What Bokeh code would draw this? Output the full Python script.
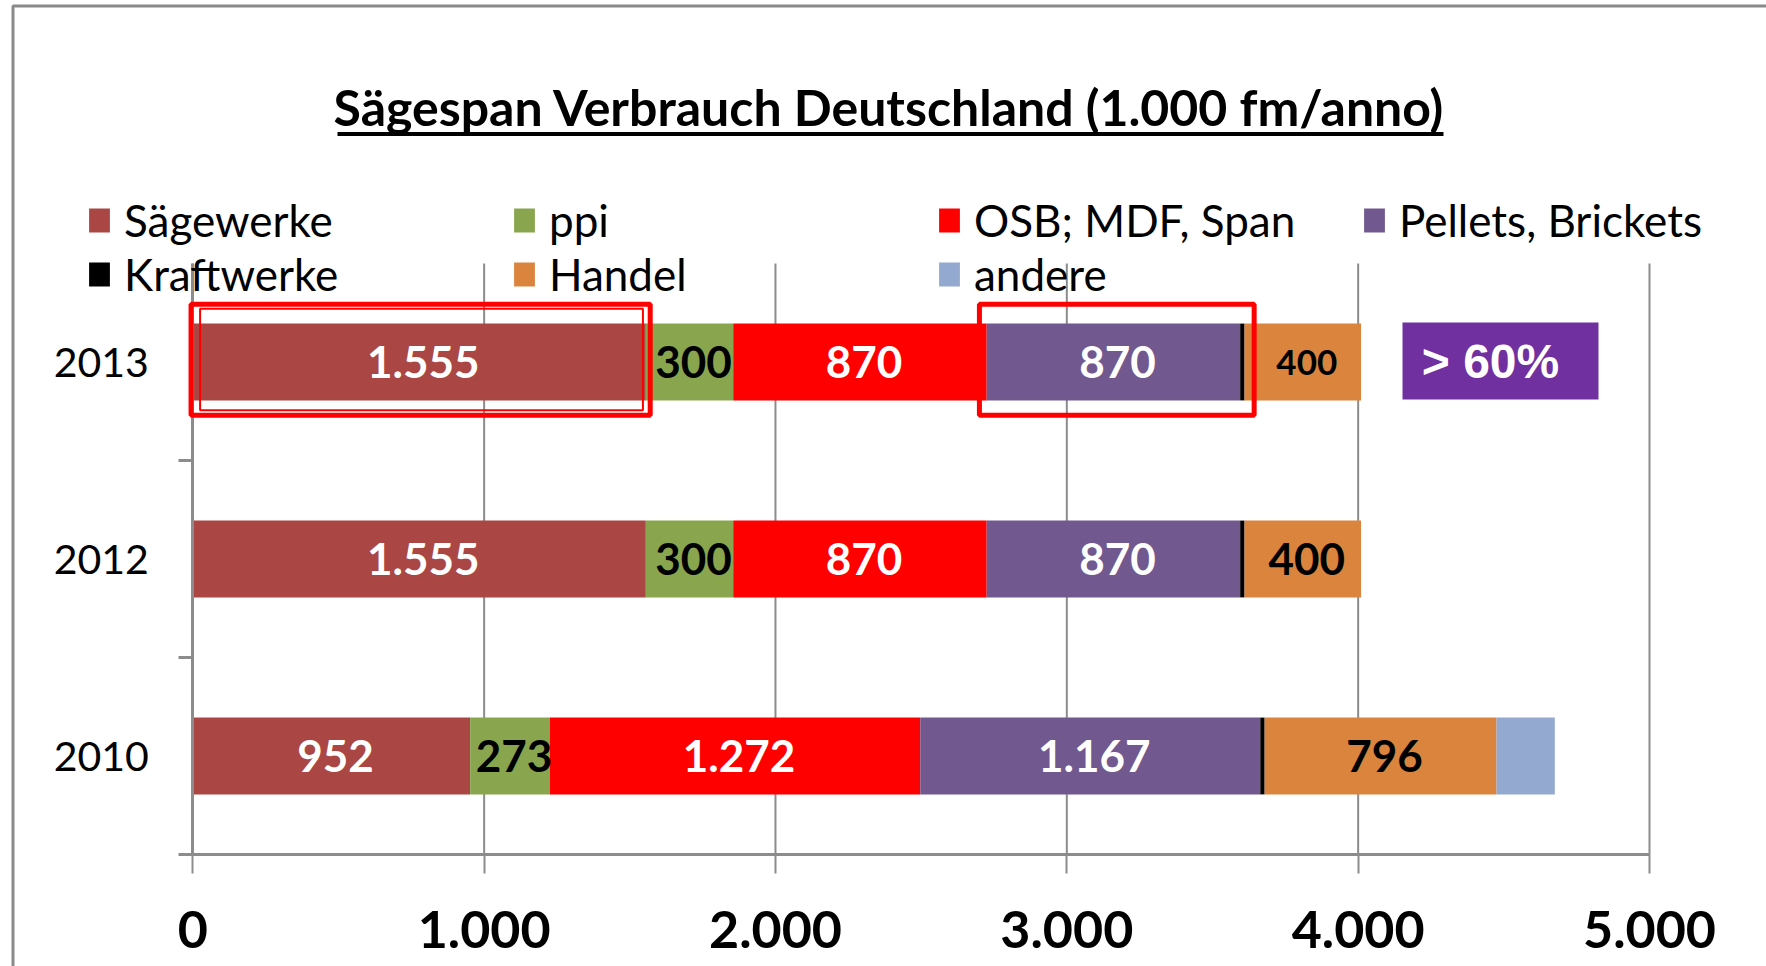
from bokeh.plotting import figure
from bokeh.models import (ColumnDataSource, FixedTicker, Legend, LegendItem, Label,
                          BoxAnnotation, Range1d)
from bokeh.core.properties import value
from bokeh.embed import file_html
from bokeh.resources import INLINE

# ---------------- data ----------------
title_text = "Sägespan Verbrauch Deutschland  (1.000  fm/anno)"
years = ["2010", "2012", "2013"]                      # bottom -> top
series = ["Sägewerke", "ppi", "OSB; MDF, Span", "Pellets, Brickets",
          "Kraftwerke", "Handel", "andere"]
saegewerke = [952, 1555, 1555]
ppi = [273, 300, 300]
osb_mdf_span = [1272, 870, 870]
pellets_brickets = [1167, 870, 870]
kraftwerke = [15, 15, 15]
handel = [796, 400, 400]
andere = [200, 0, 0]
x_ticks = [0, 1000, 2000, 3000, 4000, 5000]
x_tick_labels = ["0", "1.000", "2.000", "3.000", "4.000", "5.000"]
highlight_text = "> 60%"

# ---------------- styles / layout ----------------
colors = ["#AA4643", "#89A54E", "#FF0000", "#71588F", "#000000", "#DB843D", "#93A9CF"]
label_colors = {0: "white", 1: "black", 2: "white", 3: "white", 5: "black"}
FONT = "Lato"
GRID = "#8c8c8c"
W, H = 1766, 966
AX_LEFT_PX, AX_RIGHT_PX = 192.3, 1649.0       # pixel positions of x=0 and x=max
AX_BOTTOM_PX, AX_TOP_PX = 854.0, 263.0         # pixel positions of y=0 and y=n

xmax = x_ticks[-1]
ncat = len(years)
ux = xmax / (AX_RIGHT_PX - AX_LEFT_PX)
uy = ncat / (AX_BOTTOM_PX - AX_TOP_PX)
x_range = Range1d(-AX_LEFT_PX * ux, xmax + (W - AX_RIGHT_PX) * ux)
y_range = Range1d(-(H - AX_BOTTOM_PX) * uy, ncat + AX_TOP_PX * uy)

values = [saegewerke, ppi, osb_mdf_span, pellets_brickets, kraftwerke, handel, andere]
keys = [f"s{i}" for i in range(len(series))]
y_pos = [i + 0.5 for i in range(ncat)]
data = {"y": y_pos}
for k, v in zip(keys, values):
    data[k] = v
src = ColumnDataSource(data)

p = figure(width=W, height=H, x_range=x_range, y_range=y_range, title=None,
           output_backend="svg", toolbar_location=None, min_border=0,
           background_fill_color="white", border_fill_color="white")
p.outline_line_color = None
p.xgrid.visible = False
p.ygrid.visible = False

# ---- vertical gridlines at the x ticks ----
p.segment(x0=x_ticks, x1=x_ticks, y0=[0] * len(x_ticks), y1=[ncat] * len(x_ticks),
          line_color=GRID, line_width=2)

renderers = p.hbar_stack(keys, y="y", height=0.39, fill_color=colors, line_color=None, source=src)

# ---- data labels ----
def fmt(v):
    return f"{v:,}".replace(",", ".")

lx, ly, lt, lc, lsz = [], [], [], [], []
for yi, yv in enumerate(y_pos):
    cum = 0
    for si, v in enumerate(values):
        start = cum
        cum += v[yi]
        if si in label_colors and v[yi] > 0:
            lx.append((start + cum) / 2)
            ly.append(yv)
            lt.append(fmt(v[yi]))
            lc.append(label_colors[si])
            lsz.append("35px" if (years[yi] == "2013" and si == 5) else "44px")
lsrc = ColumnDataSource(dict(x=lx, y=ly, text=lt, color=lc, size=lsz))
p.text(x="x", y="y", text="text", source=lsrc, text_color="color", text_font_size="size",
       text_font=value(FONT), text_font_style="bold", text_align="center", text_baseline="middle",
       x_offset=4)

# ---- axes (fixed inside the frame) ----
xa = p.xaxis[0]
xa.fixed_location = 0
xa.bounds = (0, xmax)
xa.ticker = FixedTicker(ticks=x_ticks)
xa.major_label_overrides = {t: l for t, l in zip(x_ticks, x_tick_labels)}
xa.axis_line_color = GRID
xa.axis_line_width = 3
xa.major_tick_line_color = GRID
xa.major_tick_line_width = 2
xa.major_tick_out = 19
xa.major_tick_in = 0
xa.minor_tick_line_color = None
xa.major_label_text_font = FONT
xa.major_label_text_font_style = "bold"
xa.major_label_text_font_size = "52px"
xa.major_label_text_color = "black"
xa.major_label_standoff = 37

ya = p.yaxis[0]
ya.fixed_location = 0
ya.bounds = (0, ncat)
ya.ticker = FixedTicker(ticks=y_pos, minor_ticks=list(range(ncat)))
ya.major_label_overrides = {y: l for y, l in zip(y_pos, years)}
ya.axis_line_color = GRID
ya.axis_line_width = 3
ya.major_tick_line_color = None
ya.major_tick_out = 0
ya.major_tick_in = 0
ya.minor_tick_line_color = GRID
ya.minor_tick_line_width = 3
ya.minor_tick_out = 14
ya.minor_tick_in = 0
ya.major_label_text_font = FONT
ya.major_label_text_font_size = "41px"
ya.major_label_text_color = "black"
ya.major_label_standoff = 30

# ---- legend ----
items = [LegendItem(label=n, renderers=[r]) for n, r in zip(series, renderers)]
legend = Legend(items=items, location=(86, H - 300), orientation="horizontal", ncols=4,
                label_text_font=FONT, label_text_font_size="44px", label_text_color="black",
                label_standoff=12, glyph_width=26, glyph_height=30, label_width=385,
                label_height=48, spacing=2, padding=0, margin=0,
                border_line_color=None, background_fill_alpha=0)
p.add_layout(legend)

# ---- title with underline ----
p.add_layout(Label(x=901, y=106, x_units="canvas", y_units="canvas", text=title_text,
                   text_font=FONT, text_font_style="bold", text_font_size="50px",
                   text_align="center", text_baseline="alphabetic", text_color="black"))
p.add_layout(BoxAnnotation(left=337, right=1443, top=131.5, bottom=135.5,
                           left_units="canvas", right_units="canvas",
                           top_units="canvas", bottom_units="canvas",
                           fill_color="black", fill_alpha=1, line_color=None))

# ---- outer chart border ----
p.add_layout(BoxAnnotation(left=12.5, right=W + 50, top=5.5, bottom=H + 50,
                           left_units="canvas", right_units="canvas",
                           top_units="canvas", bottom_units="canvas",
                           fill_alpha=0, line_color="#8a8a8a", line_alpha=1, line_width=3))

# ---- highlight boxes (around 2013 Sägewerke and Pellets) ----
yi13 = years.index("2013")
yc = y_pos[yi13]
s_end = saegewerke[yi13]
p_start = saegewerke[yi13] + ppi[yi13] + osb_mdf_span[yi13]
p_end = p_start + pellets_brickets[yi13] + kraftwerke[yi13]
p.add_layout(BoxAnnotation(left=-6, right=s_end + 15, bottom=yc - 0.27, top=yc + 0.293,
                           fill_alpha=0, line_color="#FF0000", line_alpha=1, line_width=5))
p.add_layout(BoxAnnotation(left=25, right=s_end - 10, bottom=yc - 0.245, top=yc + 0.27,
                           fill_alpha=0, line_color="#FF0000", line_alpha=1, line_width=2))
p.add_layout(BoxAnnotation(left=p_start - 25, right=p_end + 33, bottom=yc - 0.27, top=yc + 0.293,
                           fill_alpha=0, line_color="#FF0000", line_alpha=1, line_width=5))

# ---- "> 60%" box ----
p.add_layout(BoxAnnotation(left=1402, right=1598, top=322, bottom=399,
                           left_units="canvas", right_units="canvas",
                           top_units="canvas", bottom_units="canvas",
                           fill_color="#7030A0", fill_alpha=1, line_color=None))
p.add_layout(Label(x=1490, y=361, x_units="canvas", y_units="canvas", text=highlight_text,
                   text_font="Liberation Sans", text_font_style="bold", text_font_size="48px",
                   text_align="center", text_baseline="middle", text_color="white"))

open("out.html", "w").write(file_html(p, INLINE))
